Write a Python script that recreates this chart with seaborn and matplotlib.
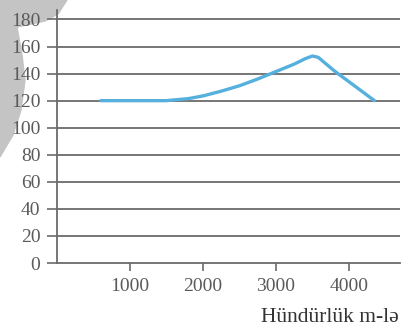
import numpy as np
import pandas as pd
import matplotlib
matplotlib.use('Agg')
import matplotlib.pyplot as plt
import seaborn as sns
from matplotlib.patches import Polygon

# values
height_m = [600, 1000, 1500, 1800, 2000, 2250, 2500, 2750, 3000, 3250, 3400, 3500, 3580, 3800, 4100, 4350]
value = [120, 120, 120, 121.5, 123.5, 127, 131, 136, 141.5, 147, 151, 153, 152, 142, 130, 120]
y_ticks = [0, 20, 40, 60, 80, 100, 120, 140, 160, 180]
x_ticks = [1000, 2000, 3000, 4000]
x_title = "Hündürlük m-lə"

df = pd.DataFrame({'h': height_m, 'v': value})

sns.set_style('white')
plt.rcParams['font.family'] = ['Liberation Serif', 'DejaVu Serif']

fig = plt.figure(figsize=(4.01, 3.30), dpi=100)
ax = fig.add_axes([57/401, 1 - 263/330, (400 - 57)/401, 253/330])

# grey scan shadow in the upper-left corner (behind everything)
pts = [(0, 0), (67, 0), (58, 14), (45, 21), (17, 27), (22, 55), (25, 80),
       (21, 110), (13, 135), (0, 157)]
shade = Polygon([[x/401, 1 - y/330] for x, y in pts], closed=True,
                transform=fig.transFigure, color='#c4c4c4', zorder=-5)
fig.patches.append(shade)
ax.set_zorder(1)

for yv in y_ticks[1:]:
    ax.axhline(yv, color='#6b6b6b', lw=1.3, zorder=1)

sns.lineplot(data=df, x='h', y='v', ax=ax, color='#55b0de', lw=2.4, zorder=3)

ax.set_xlim(0, 4700)
ax.set_ylim(0, 187)
ax.set_yticks(y_ticks)
ax.set_xticks(x_ticks)
ax.set_xlabel('')
ax.set_ylabel('')
ax.patch.set_alpha(0)

for s in ['top', 'right']:
    ax.spines[s].set_visible(False)
for s in ['left', 'bottom']:
    ax.spines[s].set_color('#6b6b6b')
    ax.spines[s].set_linewidth(1.3)

ax.tick_params(axis='y', direction='out', length=7, width=1.2, color='#6b6b6b',
               labelsize=14, labelcolor='#5a5a5a', pad=5, left=True)
ax.tick_params(axis='x', direction='out', length=6, width=1.2, color='#6b6b6b',
               labelsize=14, labelcolor='#5a5a5a', pad=5, bottom=True)

fig.text(399/401, 1 - 318/330, x_title, ha='right', va='center', fontsize=15.5, color='#333333')

fig.savefig('out.png', dpi=100)
